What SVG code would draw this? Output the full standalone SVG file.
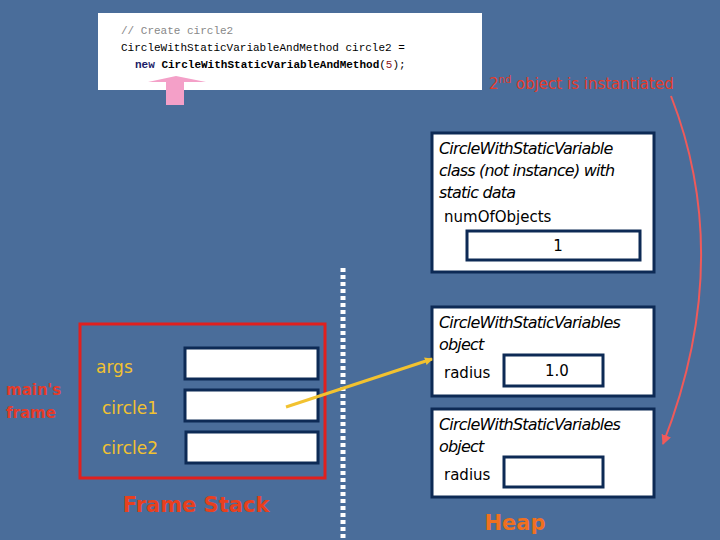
<svg xmlns="http://www.w3.org/2000/svg" width="720" height="540" viewBox="0 0 720 540">
<style>
.box{fill:#fff;stroke:#0d2a55;stroke-width:3}
.slot{fill:#fff;stroke:#0d2a55;stroke-width:3}
.it{font-family:"DejaVu Sans",sans-serif;font-style:italic;font-size:16px;fill:#000;letter-spacing:-0.8px}
.lbl{font-family:"DejaVu Sans",sans-serif;font-size:15px;fill:#000}
.yel{font-family:"DejaVu Sans",sans-serif;font-size:17px;fill:#f2c230}
.code{font-family:"Liberation Mono",monospace;font-size:11px}
</style>
<defs>
<marker id="ay" markerWidth="8" markerHeight="8" refX="7" refY="4" orient="auto" markerUnits="userSpaceOnUse"><path d="M0,0 L8,4 L0,8 z" fill="#f2c230"/></marker>
<marker id="ar" markerWidth="10" markerHeight="10" refX="9" refY="5" orient="auto" markerUnits="userSpaceOnUse"><path d="M0,0 L10,5 L0,10 z" fill="#ef5a5a"/></marker>
</defs>
<rect width="720" height="540" fill="#4a6d9a"/>
<g id="code">
<rect x="98" y="13" width="384" height="77" fill="#fff"/>
<text x="121" y="34" class="code" fill="#888">// Create circle2</text>
<text x="121" y="51" class="code" fill="#000">CircleWithStaticVariableAndMethod circle2 =</text>
<text x="135" y="68" class="code"><tspan fill="#1a1a66" font-weight="bold">new</tspan><tspan fill="#000" font-weight="bold"> CircleWithStaticVariableAndMethod</tspan><tspan fill="#000">(</tspan><tspan fill="#8b2020">5</tspan><tspan fill="#000">);</tspan></text>
<polygon points="148,82 176,76 206,82 184,82 184,105 166,105 166,82" fill="#f4a0c8"/>
</g>
<text x="489" y="89" font-family="DejaVu Sans,sans-serif" font-size="15" fill="#e53b2a">2<tspan font-size="10" dy="-6">nd</tspan><tspan dy="6"> object is instantiated</tspan></text>
<g id="classbox">
<rect x="432" y="133" width="222" height="139" class="box"/>
<text x="439" y="154" class="it">CircleWithStaticVariable</text>
<text x="439" y="176" class="it">class (not instance) with</text>
<text x="439" y="198" class="it">static data</text>
<text x="444" y="222" class="lbl">numOfObjects</text>
<rect x="467" y="231" width="173" height="29" class="slot"/>
<text x="558" y="251" class="lbl" text-anchor="middle">1</text>
</g>
<g id="obj1">
<rect x="432" y="307" width="222" height="89" class="box"/>
<text x="439" y="328" class="it">CircleWithStaticVariables</text>
<text x="439" y="350" class="it">object</text>
<text x="444" y="378" class="lbl">radius</text>
<rect x="504" y="355" width="99" height="31" class="slot"/>
<text x="557" y="376" class="lbl" text-anchor="middle">1.0</text>
</g>
<g id="obj2">
<rect x="432" y="409" width="222" height="88" class="box"/>
<text x="439" y="430" class="it">CircleWithStaticVariables</text>
<text x="439" y="452" class="it">object</text>
<text x="444" y="480" class="lbl">radius</text>
<rect x="504" y="457" width="99" height="30" class="slot"/>
</g>
<line x1="343" y1="268" x2="343" y2="540" stroke="#fff" stroke-width="5" stroke-dasharray="4,3"/>
<g id="frame">
<rect x="80" y="324" width="245" height="154" fill="none" stroke="#e0201e" stroke-width="3"/>
<text x="96" y="373" class="yel">args</text>
<text x="102" y="414" class="yel">circle1</text>
<text x="102" y="454" class="yel">circle2</text>
<rect x="185" y="348" width="133" height="31" class="slot"/>
<rect x="185" y="390" width="133" height="31" class="slot"/>
<rect x="186" y="432" width="132" height="31" class="slot"/>
</g>
<text x="6" y="395" font-family="DejaVu Sans,sans-serif" font-weight="bold" font-size="15" fill="#e53b2a">main's</text>
<text x="6" y="418" font-family="DejaVu Sans,sans-serif" font-weight="bold" font-size="15" fill="#e53b2a">frame</text>
<text x="196" y="512" text-anchor="middle" font-family="DejaVu Sans,sans-serif" font-weight="bold" font-size="21" fill="#e8401e">Frame Stack</text>
<text x="515" y="530" text-anchor="middle" font-family="DejaVu Sans,sans-serif" font-weight="bold" font-size="21" fill="#f07020">Heap</text>
<g id="connectors">
<line x1="286" y1="407" x2="432" y2="359" stroke="#f2c230" stroke-width="3" marker-end="url(#ay)"/>
<path d="M671,96 Q735,260 663,444" fill="none" stroke="#ef5a5a" stroke-width="2" marker-end="url(#ar)"/>
</g>
</svg>
